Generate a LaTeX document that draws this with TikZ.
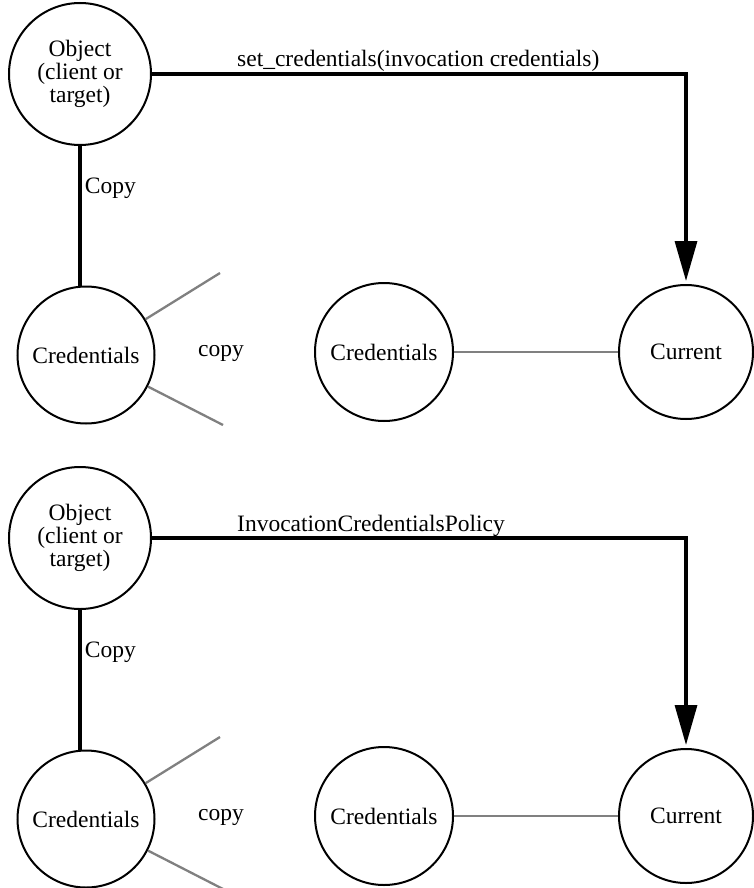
\documentclass[tikz,border=0pt]{standalone}
\usepackage{fontspec}
\setmainfont{Liberation Serif}
\usetikzlibrary{arrows.meta}
\usetikzlibrary{positioning}

\tikzset{
  ball/.style={circle, draw, line width=2pt, inner sep=0pt, minimum size=#1, align=center},
  conn/.style={line width=3.3pt},
  copyline/.style={line width=2.3pt, gray},
}

\begin{document}
\begin{tikzpicture}[x=1pt, y=-1pt, font=\fontsize{23.5}{23}\selectfont]
  % Vertical distance between the two panels
  \def\dy{464}

  \useasboundingbox (0,0) rectangle (753,888);

  \foreach \i/\lbl in {0/{set\_credentials(invocation credentials)}, 1/{InvocationCredentialsPolicy}} {
    % Circles
    \node[ball=142pt] (obj\i) at (80,74+\i*\dy) {Object\\(client or\\target)};
    \node[ball=137pt] (cred\i) at (86,355+\i*\dy) {Credentials};
    \node[ball=138pt] (mid\i) at (384,352+\i*\dy) {Credentials};
    \node[ball=134pt] (cur\i) at (686,352+\i*\dy) {Current};

    % Free ends of the copy lines
    \coordinate (up\i) at (220,273+\i*\dy);
    \coordinate (lo\i) at (223,425+\i*\dy);

    % Connectors
    \draw[conn] (obj\i.south) -- node[right, pos=0.3] {Copy} (obj\i.south |- cred\i.north);
    \draw[conn, -{Triangle[length=40pt, width=22pt]}, shorten >=3pt] (obj\i.east) -| (cur\i.north);
    \draw[copyline] (cred\i.31) -- (up\i);
    \draw[copyline] (cred\i.-27) -- (lo\i);
    \draw[copyline] (mid\i.east) -- (cur\i.west);

    % Labels
    \node[anchor=base west, inner sep=0pt] at (237,67+\i*\dy) {\lbl};
    \node at (221,353+\i*\dy) {copy};
  }
\end{tikzpicture}
\end{document}
